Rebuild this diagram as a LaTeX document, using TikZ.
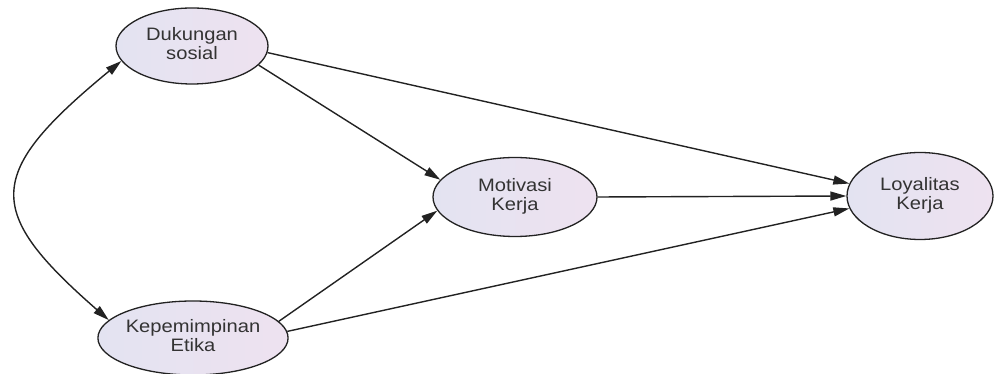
\documentclass[tikz,border=0pt]{standalone}
\usepackage{fontspec}
\usepackage{graphicx}
\newfontfamily\lab{Liberation Sans}
\usetikzlibrary{shapes.geometric,arrows.meta}
\definecolor{fillL}{HTML}{E3E3F1}
\definecolor{fillR}{HTML}{EEE2F0}
\definecolor{edgecol}{HTML}{222222}
\definecolor{txtcol}{HTML}{333333}
\newcommand{\twolines}[2]{\scalebox{1.12}[1]{\begin{tabular}{@{}c@{}}#1\\#2\end{tabular}}}
\begin{document}
\begin{tikzpicture}[x=1pt,y=1pt,
  latent/.style={ellipse,draw=edgecol,line width=1.3pt,left color=fillL,right color=fillR,inner sep=0pt,
    text=txtcol,font=\lab\fontsize{18}{18.5}\selectfont},
  path/.style={draw=edgecol,line width=1.4pt,-{Triangle[length=16pt,width=9pt]}},
  cov/.style={draw=edgecol,line width=1.4pt,{Triangle[length=16pt,width=9pt]}-{Triangle[length=16pt,width=9pt]}}]
\useasboundingbox (0,0) rectangle (996,374);
\node[latent,minimum width=152pt,minimum height=76pt] (d) at (192,328) {\twolines{Dukungan}{sosial}};
\node[latent,minimum width=150pt,minimum height=74pt] (k) at (193,36) {\twolines{Kepemimpinan}{Etika}};
\node[latent,minimum width=164pt,minimum height=79pt] (m) at (515,177) {\twolines{Motivasi}{Kerja}};
\node[latent,minimum width=146pt,minimum height=87pt] (l) at (920,178) {\twolines{Loyalitas}{Kerja}};
\draw[cov] (d.192) .. controls (-16,200) and (-16,163) .. (k.168);
\draw[path] (d.344) -- (m.167);
\draw[path] (d.355) -- (l.170);
\draw[path] (k.11) -- (m.190);
\draw[path] (k.4) -- (l.190);
\draw[path] (m.east) -- (l.180);
\end{tikzpicture}
\end{document}
